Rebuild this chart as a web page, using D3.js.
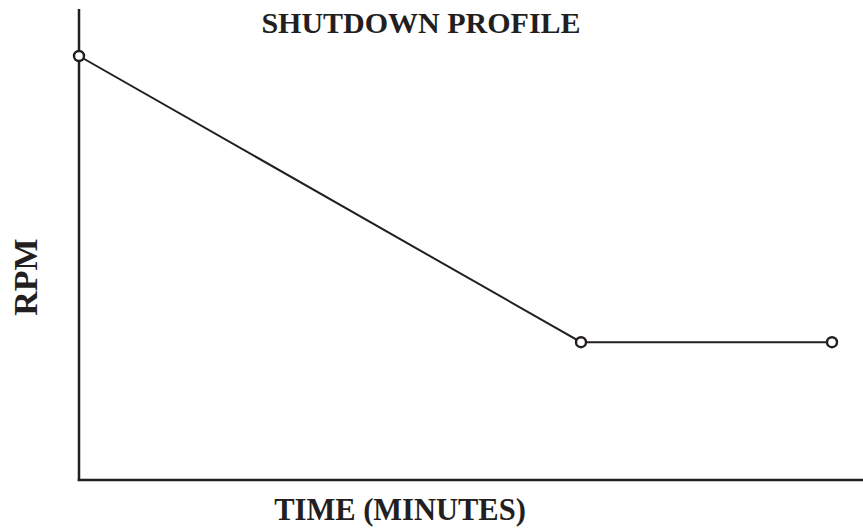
<!DOCTYPE html>
<meta charset="utf-8">
<style>
body { margin: 0; background: #fff; }
text { font-family: "Liberation Serif", "Times New Roman", serif; font-weight: bold; fill: #231f20; }
</style>
<body>
<script src="https://d3js.org/d3.v7.min.js"></script>
<script>
// shutdown profile data
var timeMin = [0, 6, 9];
var rpm = [3600, 1170, 1170];
var title = "SHUTDOWN PROFILE";
var xLabel = "TIME (MINUTES)";
var yLabel = "RPM";

var width = 863, height = 529;
var ink = "#231f20";

var svg = d3.select("body").append("svg")
    .attr("width", width)
    .attr("height", height);

// scales
var x = d3.scaleLinear().domain([0, 9]).range([79, 832]);
var y = d3.scaleLinear().domain([0, 3600]).range([480, 56]);

// axes, just the lines, no ticks
svg.append("line")
    .attr("x1", x(0)).attr("x2", x(0))
    .attr("y1", 9).attr("y2", y(0) + 1)
    .attr("stroke", ink).attr("stroke-width", 2.5);

svg.append("line")
    .attr("x1", x(0) - 1.25).attr("x2", width)
    .attr("y1", y(0)).attr("y2", y(0))
    .attr("stroke", ink).attr("stroke-width", 2.5);

var data = timeMin.map(function(t, i) { return {t: t, rpm: rpm[i]}; });

var line = d3.line()
    .x(function(d) { return x(d.t); })
    .y(function(d) { return y(d.rpm); });

svg.append("path")
    .datum(data)
    .attr("d", line)
    .attr("fill", "none")
    .attr("stroke", ink)
    .attr("stroke-width", 2);

svg.selectAll("circle.pt")
    .data(data)
  .enter().append("circle")
    .attr("class", "pt")
    .attr("cx", function(d) { return x(d.t); })
    .attr("cy", function(d) { return y(d.rpm); })
    .attr("r", 5)
    .attr("fill", "#fff")
    .attr("stroke", ink)
    .attr("stroke-width", 2.4);

// title
svg.append("text")
    .attr("x", 421)
    .attr("y", 33)
    .attr("text-anchor", "middle")
    .style("font-size", "30px")
    .text(title);

// x label
svg.append("text")
    .attr("x", 400)
    .attr("y", 520)
    .attr("text-anchor", "middle")
    .style("font-size", "30.5px")
    .text(xLabel);

// y label
svg.append("text")
    .attr("transform", "translate(37,277) rotate(-90)")
    .attr("text-anchor", "middle")
    .style("font-size", "34px")
    .text(yLabel);
</script>
</body>
